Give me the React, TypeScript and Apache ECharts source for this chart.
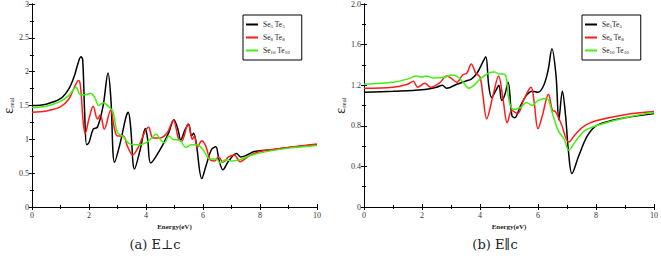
import React, { useEffect, useRef } from "react";
import * as echarts from "echarts";

// ---- Data: (a) E⊥c ----
const perpSe5: [number, number][] = [
  [0, 1.5], [0.5, 1.52], [1.0, 1.6], [1.3, 1.75], [1.5, 1.95], [1.6, 2.1], [1.72, 2.22], [1.78, 2.18],
  [1.85, 1.4], [1.92, 0.92], [2.0, 0.95], [2.15, 1.15], [2.3, 1.18], [2.5, 1.5], [2.67, 1.98],
  [2.77, 1.6], [2.9, 0.66], [3.1, 0.95], [3.3, 1.33], [3.38, 1.4], [3.46, 1.2], [3.6, 0.56],
  [3.8, 0.85], [3.98, 1.16], [4.06, 1.0], [4.17, 0.65], [4.5, 0.85], [4.8, 1.1], [4.98, 1.29],
  [5.12, 1.15], [5.22, 0.99], [5.38, 1.15], [5.5, 1.22], [5.6, 1.05], [5.67, 1.09], [5.76, 0.95],
  [5.96, 0.42], [6.1, 0.6], [6.3, 0.85], [6.45, 0.89], [6.56, 0.7], [6.7, 0.55], [6.9, 0.68],
  [7.18, 0.79], [7.32, 0.74], [7.5, 0.76], [7.8, 0.82], [8.0, 0.83], [8.5, 0.85], [9.0, 0.88], [10, 0.92],
];
const perpSe8: [number, number][] = [
  [0, 1.4], [0.5, 1.42], [1.0, 1.48], [1.3, 1.6], [1.5, 1.78], [1.63, 1.87], [1.7, 1.8], [1.8, 1.25],
  [1.87, 1.09], [2.0, 1.3], [2.15, 1.49], [2.3, 1.3], [2.4, 1.36], [2.54, 1.15], [2.76, 1.43],
  [2.9, 1.15], [3.0, 1.05], [3.2, 1.05], [3.35, 0.9], [3.53, 0.77], [3.75, 0.9], [3.95, 1.1],
  [4.09, 1.18], [4.25, 1.02], [4.5, 1.02], [4.75, 1.1], [4.96, 1.28], [5.15, 1.0], [5.25, 0.97],
  [5.48, 1.23], [5.63, 1.0], [5.7, 1.05], [5.8, 0.88], [5.96, 0.98], [6.1, 0.9], [6.25, 0.7],
  [6.4, 0.68], [6.55, 0.74], [6.7, 0.66], [6.9, 0.74], [7.1, 0.77], [7.3, 0.67], [7.6, 0.75],
  [8.0, 0.82], [9.0, 0.88], [10, 0.93],
];
const perpSe10: [number, number][] = [
  [0, 1.47], [0.5, 1.49], [1.0, 1.56], [1.3, 1.65], [1.55, 1.77], [1.7, 1.66], [1.9, 1.66],
  [2.05, 1.68], [2.2, 1.62], [2.35, 1.5], [2.5, 1.54], [2.7, 1.48], [2.85, 1.4], [3.0, 1.1],
  [3.2, 1.04], [3.4, 0.94], [3.6, 0.92], [3.8, 0.92], [4.0, 0.95], [4.2, 1.02], [4.35, 1.08],
  [4.5, 1.0], [4.65, 0.95], [4.8, 1.05], [4.95, 1.0], [5.2, 0.98], [5.4, 0.88], [5.6, 0.92],
  [5.8, 0.92], [6.0, 0.85], [6.2, 0.72], [6.5, 0.7], [6.6, 0.65], [6.8, 0.7], [7.0, 0.68],
  [7.3, 0.7], [7.6, 0.75], [8.0, 0.8], [9.0, 0.87], [10, 0.91],
];

// ---- Data: (b) E∥c ----
const parSe5: [number, number][] = [
  [0, 1.13], [1.0, 1.14], [2.0, 1.155], [2.5, 1.18], [2.7, 1.2], [2.85, 1.17], [3.2, 1.21],
  [3.5, 1.24], [3.7, 1.26], [3.9, 1.32], [4.1, 1.43], [4.2, 1.48], [4.3, 1.2], [4.4, 1.08],
  [4.55, 1.15], [4.65, 1.2], [4.75, 1.05], [4.85, 1.1], [4.97, 1.23], [5.1, 0.9], [5.2, 0.88],
  [5.4, 1.0], [5.6, 1.1], [5.8, 1.14], [6.0, 1.13], [6.2, 1.2], [6.35, 1.35], [6.48, 1.56],
  [6.62, 1.3], [6.72, 0.86], [6.84, 1.14], [6.95, 0.9], [7.05, 0.55], [7.17, 0.33], [7.4, 0.5],
  [7.7, 0.7], [8.0, 0.8], [8.5, 0.85], [9.0, 0.88], [10, 0.92],
];
const parSe8: [number, number][] = [
  [0, 1.17], [1.0, 1.18], [1.5, 1.21], [1.7, 1.24], [1.85, 1.18], [2.1, 1.22], [2.3, 1.18],
  [2.6, 1.22], [2.85, 1.29], [3.0, 1.27], [3.2, 1.23], [3.4, 1.3], [3.55, 1.32], [3.7, 1.41],
  [3.85, 1.32], [4.0, 1.28], [4.1, 1.1], [4.23, 0.87], [4.45, 1.1], [4.64, 1.29], [4.8, 1.05],
  [4.94, 0.83], [5.1, 0.95], [5.3, 0.92], [5.5, 1.05], [5.76, 1.18], [5.86, 1.05], [6.0, 0.77],
  [6.15, 0.9], [6.36, 1.11], [6.5, 0.95], [6.6, 0.94], [6.8, 0.82], [7.06, 0.64], [7.3, 0.72],
  [7.6, 0.8], [8.0, 0.85], [9.0, 0.91], [10, 0.94],
];
const parSe10: [number, number][] = [
  [0, 1.21], [1.0, 1.23], [1.5, 1.26], [1.8, 1.29], [2.0, 1.28], [2.15, 1.29], [2.4, 1.27],
  [2.8, 1.28], [3.0, 1.3], [3.2, 1.29], [3.5, 1.2], [3.6, 1.17], [3.8, 1.2], [4.0, 1.26],
  [4.3, 1.32], [4.5, 1.33], [4.65, 1.31], [4.8, 1.31], [4.9, 1.28], [5.0, 1.05], [5.15, 0.96],
  [5.4, 0.98], [5.6, 1.03], [5.8, 1.0], [6.0, 1.05], [6.3, 1.07], [6.5, 0.92], [6.7, 0.75],
  [6.9, 0.67], [7.06, 0.56], [7.3, 0.65], [7.6, 0.75], [8.0, 0.8], [9.0, 0.88], [10, 0.93],
];

const xTicks = ["0", "2", "4", "6", "8", "10"];
const perpYMax = 3;
const parYMax = 2;
const captions = ["(a) E\u22a5c", "(b) E\u2225c"];

const FONT = "'Liberation Serif', 'DejaVu Serif', 'Times New Roman', serif";
const CAP_FONT = "'DejaVu Serif', serif";
const COLORS = ["#000000", "#ff1a1a", "#44ee11"];

const richSub = {
  n: { fontFamily: FONT, fontSize: 7.5, color: "#222" },
  s: { fontFamily: FONT, fontSize: 5, color: "#222", verticalAlign: "bottom", padding: [3, 0, 0, 0] },
};

export default function App() {
  const ref = useRef<HTMLDivElement>(null);
  useEffect(() => {
    if (!ref.current) return;
    const chart = echarts.init(ref.current, null, { renderer: "svg" });

    const grids = [
      { left: 25, right: 344, top: 4, bottom: 53 },
      { left: 364, right: 5, top: 4, bottom: 53 },
    ];

    const tickCommon = {
      axisLine: { show: true, lineStyle: { color: "#000", width: 1 } },
      axisTick: { show: true, inside: true, length: 3, lineStyle: { color: "#000" } },
      minorTick: { show: true, splitNumber: 2, length: 2, lineStyle: { color: "#000" } },
      splitLine: { show: false },
    };

    const xAxes: any[] = [];
    const yAxes: any[] = [];
    [0, 1].forEach((g) => {
      xAxes.push({
        type: "value", gridIndex: g, min: 0, max: 10, interval: 2, position: "bottom",
        ...tickCommon,
        axisLabel: {
          fontFamily: FONT, fontSize: 8, color: "#333", margin: 4,
          formatter: (v: number) => xTicks[Math.round(v / 2)] ?? "",
        },
        name: "Energy(eV)", nameLocation: "middle", nameGap: 15,
        nameTextStyle: { fontFamily: FONT, fontSize: 7, color: "#222", fontWeight: "bold" },
      });
      xAxes.push({
        type: "value", gridIndex: g, min: 0, max: 10, interval: 2, position: "top",
        ...tickCommon,
        axisLabel: { show: false },
      });
      const ymax = g === 0 ? perpYMax : parYMax;
      const yint = g === 0 ? 0.5 : 0.4;
      yAxes.push({
        type: "value", gridIndex: g, min: 0, max: ymax, interval: yint, position: "left",
        ...tickCommon,
        axisLabel: {
          fontFamily: FONT, fontSize: 8, color: "#333", margin: 3,
          formatter: (v: number) => (g === 0 ? String(+v.toFixed(1)) : v === 0 ? "0" : v.toFixed(1)),
        },
        name: "{e|\u03b5}{s|real}", nameLocation: "middle", nameGap: g === 0 ? 13 : 16, nameRotate: 90,
        nameTextStyle: {
          rich: {
            e: { fontFamily: FONT, fontSize: 14, color: "#222" },
            s: { fontFamily: FONT, fontSize: 7, color: "#222", verticalAlign: "bottom", padding: [6, 0, 0, 0] },
          },
        },
      });
      yAxes.push({
        type: "value", gridIndex: g, min: 0, max: ymax, interval: yint, position: "right",
        ...tickCommon,
        axisLabel: { show: false },
      });
    });

    const mk = (name: string, data: [number, number][], g: number, ci: number) => ({
      name, type: "line", data, xAxisIndex: g * 2, yAxisIndex: g * 2,
      symbol: "none", smooth: 0.35, lineStyle: { color: COLORS[ci], width: 1.5 },
      itemStyle: { color: COLORS[ci] },
    });

    const series = [
      mk("a5", perpSe5, 0, 0), mk("a8", perpSe8, 0, 1), mk("a10", perpSe10, 0, 2),
      mk("b5", parSe5, 1, 0), mk("b8", parSe8, 1, 1), mk("b10", parSe10, 1, 2),
    ];

    const labels: Record<string, string> = {
      a5: "{n|Se}{s|5}{n| Te}{s|5}",
      a8: "{n|Se}{s|8}{n| Te}{s|8}",
      a10: "{n|Se}{s|10}{n| Te}{s|10}",
      b5: "{n|Se}{s|5}{n|Te}{s|5}",
      b8: "{n|Se}{s|8}{n| Te}{s|8}",
      b10: "{n|Se}{s|10}{n| Te}{s|10}",
    };

    const mkLegend = (left: number, names: string[]) => ({
      left, top: 15, orient: "vertical", data: names,
      icon: "rect", itemWidth: 12, itemHeight: 2, itemGap: 4,
      padding: [5, 12, 5, 3],
      borderColor: "#000", borderWidth: 1, backgroundColor: "#fff",
      selectedMode: false,
      textStyle: { rich: richSub, fontFamily: FONT, fontSize: 7.5, lineHeight: 9 },
      formatter: (n: string) => labels[n],
    });

    chart.setOption({
      animation: false,
      backgroundColor: "#fff",
      grid: grids,
      xAxis: xAxes,
      yAxis: yAxes,
      series,
      legend: [mkLegend(243, ["a5", "a8", "a10"]), mkLegend(582, ["b5", "b8", "b10"])],
      graphic: [
        { type: "text", x: 155, y: 244, style: { text: captions[0], fontFamily: CAP_FONT, fontSize: 13, fill: "#222", align: "center", verticalAlign: "middle" } },
        { type: "text", x: 495, y: 244, style: { text: captions[1], fontFamily: CAP_FONT, fontSize: 13, fill: "#222", align: "center", verticalAlign: "middle" } },
      ],
    });
    return () => chart.dispose();
  }, []);
  return <div ref={ref} style={{ width: 661, height: 260, position: "absolute", left: 0, top: 0 }} />;
}
